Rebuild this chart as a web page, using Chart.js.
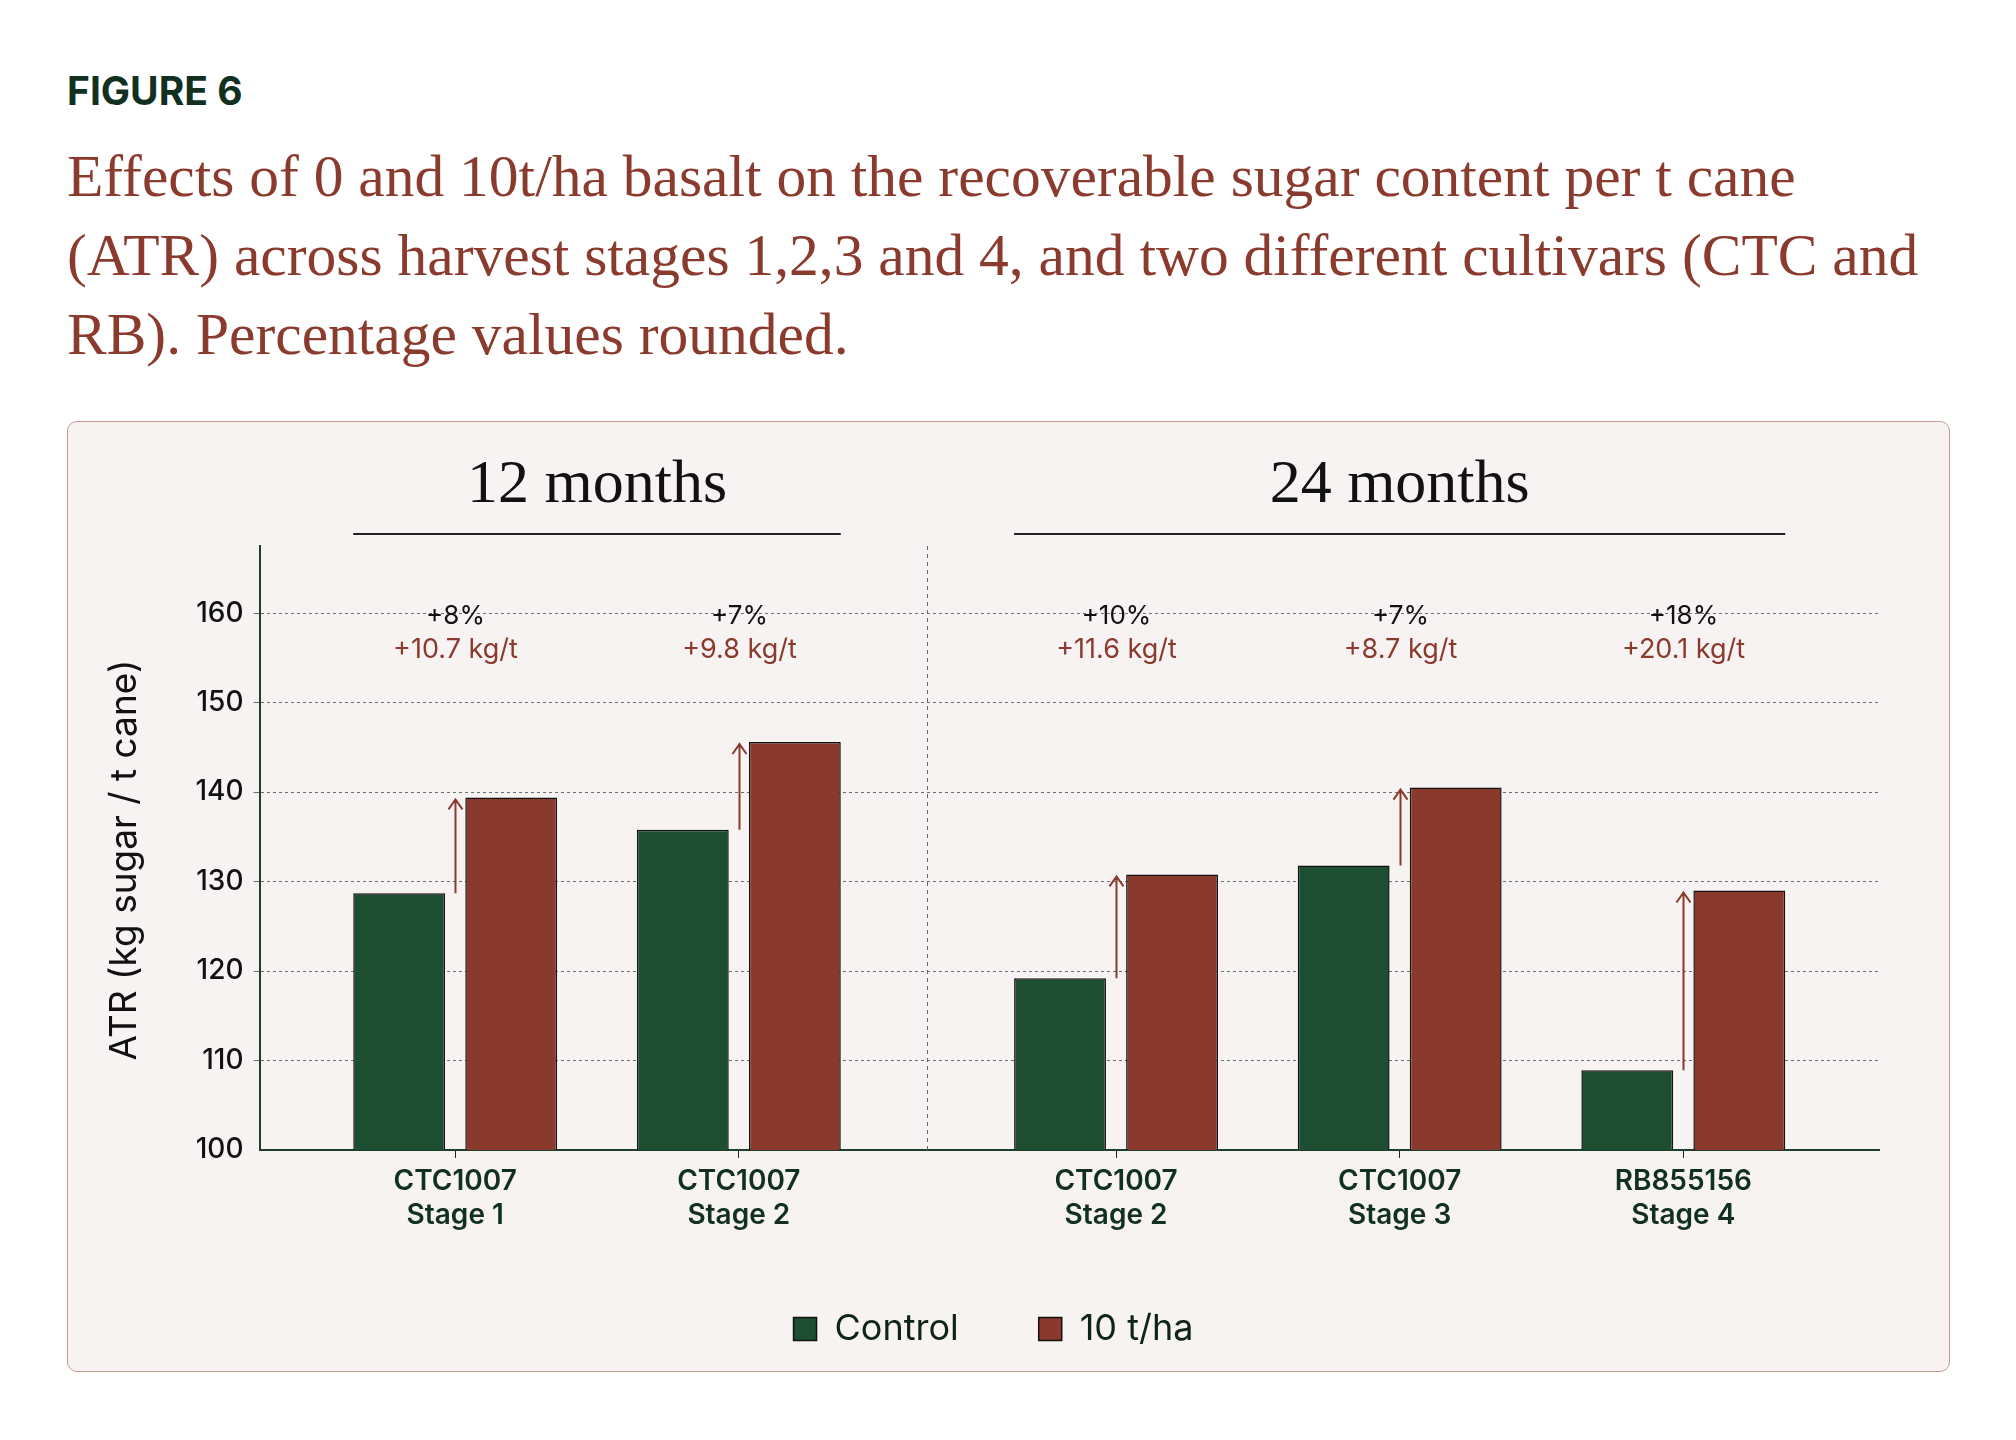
<!DOCTYPE html>
<html lang="en">
<head>
<meta charset="UTF-8">
<title>Figure 6 - ATR</title>
<script src="https://cdn.jsdelivr.net/npm/chart.js"></script>
<style>
  html, body { margin: 0; background: #fff; }
  body { width: 2016px; height: 1440px; position: relative; overflow: hidden; }
  .fig { position: absolute; left: 67px; top: 70px; font-family: Inter, sans-serif; font-weight: 700; font-size: 39px; line-height: 42px; color: #12301f; }
  h1 { position: absolute; left: 67px; top: 137px; margin: 0; font-family: "Liberation Serif", serif; font-weight: 400; font-size: 59.5px; line-height: 79px; color: #8b3a2e; }
  .card { position: absolute; left: 67px; top: 421px; width: 1883px; height: 951px; box-sizing: border-box; background: #f7f3f2; border: 1.5px solid #c99a92; border-radius: 10px; }
  canvas { position: absolute; left: 0; top: 0; }
</style>
</head>
<body>
  <div class="fig">FIGURE 6</div>
  <h1>Effects of 0 and 10t/ha basalt on the recoverable sugar content per t cane<br>(ATR) across harvest stages 1,2,3 and 4, and two different cultivars (CTC and<br>RB). Percentage values rounded.</h1>
  <div class="card">
    <canvas id="chart" width="1880" height="948"></canvas>
  </div>

  <script>
    // data (kg sugar / t cane)
    const cultivars = ['CTC1007', 'CTC1007', 'CTC1007', 'CTC1007', 'RB855156'];
    const stages = ['Stage 1', 'Stage 2', 'Stage 2', 'Stage 3', 'Stage 4'];
    const periods = ['12 months', '24 months'];
    const periodOf = [0, 0, 1, 1, 1];
    const control = [128.7, 135.8, 119.2, 131.8, 108.9];
    const basalt = [139.4, 145.6, 130.8, 140.5, 129.0];
    const pctLabels = ['+8%', '+7%', '+10%', '+7%', '+18%'];
    const kgLabels = ['+10.7 kg/t', '+9.8 kg/t', '+11.6 kg/t', '+8.7 kg/t', '+20.1 kg/t'];
    const yTicks = [100, 110, 120, 130, 140, 150, 160];
    const yTitle = 'ATR (kg sugar / t cane)';

    const GREEN = '#1e4e32';
    const RED = '#8a3a2d';
    const INK = '#12301f';
    const periodGap = 0.33; // extra space between the two harvest periods
    const xs = stages.map((_, i) => i + periodOf[i] * periodGap);

    const decorations = {
      id: 'decorations',
      afterLayout(chart) {
        // nudge the legend a little right, like the original
        chart.legend.left += 20;
        chart.legend.right += 20;
      },
      beforeDatasetsDraw(chart) {
        const { ctx, chartArea, scales: { x } } = chart;
        const sepX = Math.round(x.getPixelForValue((xs[1] + xs[2]) / 2)) + 0.5;
        ctx.save();
        ctx.setLineDash([4, 4]);
        ctx.strokeStyle = '#666';
        ctx.lineWidth = 1;
        ctx.beginPath();
        ctx.moveTo(sepX, chartArea.top);
        ctx.lineTo(sepX, chartArea.bottom);
        ctx.stroke();
        ctx.restore();

        // y axis title, sitting a bit below the axis middle
        ctx.save();
        ctx.translate(56.5, (chartArea.top + chartArea.bottom) / 2 + 12);
        ctx.rotate(-Math.PI / 2);
        ctx.font = '37px Inter, sans-serif';
        ctx.fillStyle = '#111';
        ctx.textAlign = 'center';
        ctx.textBaseline = 'middle';
        ctx.fillText(yTitle, 0, 0);
        ctx.restore();
      },
      afterDatasetsDraw(chart) {
        const { ctx, chartArea, scales: { x, y } } = chart;
        const c = chart.getDatasetMeta(0).data;
        const b = chart.getDatasetMeta(1).data;
        ctx.save();

        // period headers with underline
        periods.forEach((p, g) => {
          const idx = periodOf.map((v, i) => v === g ? i : -1).filter(i => i >= 0);
          const first = c[idx[0]], last = b[idx[idx.length - 1]];
          const left = first.x - first.width / 2;
          const right = last.x + last.width / 2;
          ctx.strokeStyle = '#222';
          ctx.lineWidth = 2;
          ctx.beginPath();
          ctx.moveTo(left, chartArea.top - 12);
          ctx.lineTo(right, chartArea.top - 12);
          ctx.stroke();
          ctx.fillStyle = '#111';
          ctx.font = '62px "Liberation Serif", serif';
          ctx.textAlign = 'center';
          ctx.textBaseline = 'alphabetic';
          ctx.fillText(p, (left + right) / 2, chartArea.top - 44);
        });

        // arrows from control to basalt, and the change labels
        xs.forEach((v, i) => {
          const px = Math.round(x.getPixelForValue(v)) + 0.5;
          const y0 = y.getPixelForValue(control[i]);
          const y1 = y.getPixelForValue(basalt[i]) + 2;
          ctx.strokeStyle = RED;
          ctx.lineWidth = 2;
          ctx.beginPath();
          ctx.moveTo(px, y0);
          ctx.lineTo(px, y1);
          ctx.moveTo(px - 7, y1 + 10);
          ctx.lineTo(px, y1);
          ctx.lineTo(px + 7, y1 + 10);
          ctx.stroke();

          const ty = y.getPixelForValue(160) + 3;
          ctx.textAlign = 'center';
          ctx.textBaseline = 'middle';
          ctx.font = '26px Inter, sans-serif';
          ctx.fillStyle = '#111';
          ctx.fillText(pctLabels[i], px, ty);
          ctx.font = '27px Inter, sans-serif';
          ctx.fillStyle = RED;
          ctx.fillText(kgLabels[i], px, ty + 34);
        });
        ctx.restore();
      }
    };

    new Chart(document.getElementById('chart'), {
      type: 'bar',
      data: {
        datasets: [
          {
            label: 'Control',
            data: xs.map((x, i) => ({ x, y: control[i] })),
            backgroundColor: GREEN,
            borderColor: '#111',
            borderWidth: 1.5
          },
          {
            label: '10 t/ha',
            data: xs.map((x, i) => ({ x, y: basalt[i] })),
            backgroundColor: RED,
            borderColor: '#111',
            borderWidth: 1.5
          }
        ]
      },
      options: {
        responsive: false,
        animation: false,
        categoryPercentage: 0.79,
        barPercentage: 0.82,
        layout: { padding: { top: 124, right: 69, bottom: 13, left: 0 } },
        plugins: {
          tooltip: { enabled: false },
          legend: {
            position: 'bottom',
            labels: {
              font: { family: 'Inter', size: 36 },
              color: '#0f2418',
              boxWidth: 23,
              boxHeight: 23,
              padding: 80
            }
          }
        },
        scales: {
          x: {
            type: 'linear',
            min: -0.69,
            max: 5.02,
            offset: false,
            afterBuildTicks: s => { s.ticks = xs.map(v => ({ value: v })); },
            afterFit: s => { s.height = 81; },
            ticks: {
              autoSkip: false,
              maxRotation: 0,
              padding: 6,
              color: INK,
              font: { family: 'Inter', size: 28, weight: '600', lineHeight: 1.22 },
              callback: (v, i) => [cultivars[i], stages[i]]
            },
            grid: { offset: false, drawOnChartArea: false, drawTicks: true, tickLength: 8, color: INK },
            border: { color: '#1e3f2c', width: 2 }
          },
          y: {
            min: 100,
            max: 167.5,
            afterBuildTicks: s => { s.ticks = yTicks.map(v => ({ value: v })); },
            afterFit: s => { s.width = 191.5; },
            ticks: { color: '#111', font: { family: 'Inter', size: 28, weight: '500' }, padding: 10 },
            grid: {
              color: ctx => ctx.tick && ctx.tick.value === 100 ? 'rgba(0,0,0,0)' : '#6f6f6f',
              lineWidth: 1,
              tickLength: 6
            },
            border: { color: '#1e3f2c', width: 2, dash: [3, 3] }
          }
        }
      },
      plugins: [decorations]
    });
  </script>
</body>
</html>
